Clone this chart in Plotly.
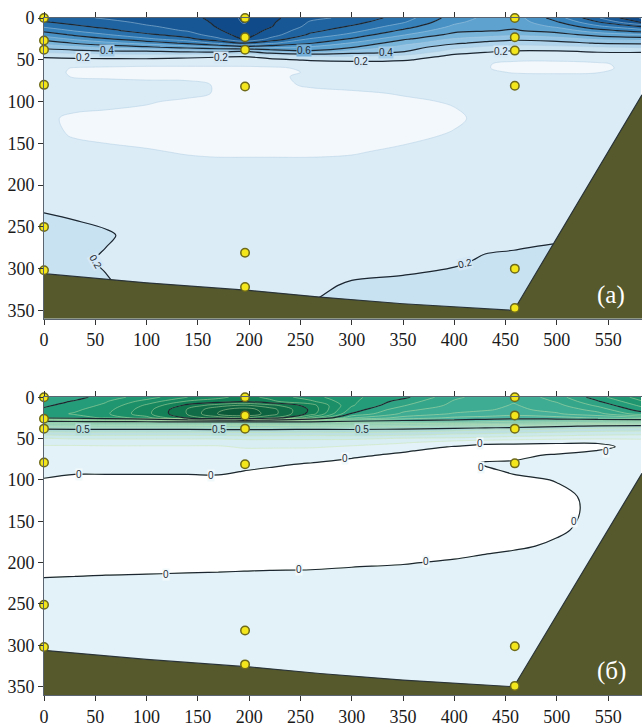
import plotly.graph_objects as go

# Section grid: distance along the section (x) and depth (y)
dist = [0, 30, 60, 100, 140, 170, 195, 220, 260, 300, 350, 400, 430, 458, 500, 540, 582]
depth = [0, 5, 10, 15, 20, 25, 30, 35, 40, 45, 50, 55, 60, 65, 70, 80, 90, 100,
         120, 140, 160, 180, 200, 230, 260, 290, 320, 360]

# Field (а): one row per depth level
field_a = [
    [1.04, 1.08, 1.11, 1.15, 1.17, 1.23, 1.32, 1.23, 1.12, 1.08, 0.95, 0.75, 0.68, 0.65, 0.85, 1.09, 1.31],
    [0.99, 1.04, 1.07, 1.12, 1.15, 1.22, 1.31, 1.22, 1.09, 1.04, 0.91, 0.72, 0.66, 0.64, 0.79, 0.99, 1.21],
    [0.92, 0.98, 1.03, 1.09, 1.13, 1.21, 1.28, 1.21, 1.07, 0.99, 0.85, 0.68, 0.63, 0.62, 0.72, 0.88, 1.01],
    [0.83, 0.91, 0.97, 1.05, 1.11, 1.19, 1.26, 1.18, 1.03, 0.94, 0.78, 0.63, 0.61, 0.59, 0.64, 0.76, 0.85],
    [0.74, 0.82, 0.89, 0.98, 1.05, 1.16, 1.24, 1.15, 0.98, 0.87, 0.71, 0.57, 0.54, 0.52, 0.56, 0.64, 0.69],
    [0.64, 0.72, 0.79, 0.88, 0.97, 1.08, 1.21, 1.08, 0.89, 0.79, 0.62, 0.49, 0.46, 0.43, 0.46, 0.52, 0.55],
    [0.53, 0.61, 0.67, 0.74, 0.82, 0.92, 1.01, 0.92, 0.81, 0.69, 0.54, 0.42, 0.37, 0.34, 0.36, 0.41, 0.42],
    [0.44, 0.48, 0.53, 0.58, 0.64, 0.69, 0.75, 0.72, 0.68, 0.61, 0.46, 0.33, 0.28, 0.26, 0.27, 0.29, 0.31],
    [0.33, 0.36, 0.38, 0.39, 0.42, 0.44, 0.39, 0.51, 0.58, 0.47, 0.41, 0.25, 0.21, 0.19, 0.19, 0.21, 0.21],
    [0.22, 0.24, 0.25, 0.26, 0.24, 0.22, 0.21, 0.25, 0.31, 0.32, 0.29, 0.18, 0.17, 0.16, 0.15, 0.16, 0.17],
    [0.18, 0.18, 0.18, 0.18, 0.17, 0.17, 0.17, 0.18, 0.21, 0.22, 0.21, 0.16, 0.14, 0.12, 0.12, 0.14, 0.16],
    [0.16, 0.16, 0.15, 0.14, 0.14, 0.14, 0.14, 0.15, 0.16, 0.17, 0.16, 0.15, 0.11, 0.07, 0.06, 0.08, 0.15],
    [0.15, 0.09, 0.08, 0.07, 0.07, 0.07, 0.07, 0.08, 0.12, 0.15, 0.15, 0.15, 0.11, 0.06, 0.05, 0.07, 0.15],
    [0.15, 0.08, 0.07, 0.06, 0.06, 0.06, 0.06, 0.07, 0.11, 0.15, 0.15, 0.15, 0.13, 0.09, 0.08, 0.095, 0.15],
    [0.15, 0.09, 0.08, 0.07, 0.07, 0.07, 0.07, 0.08, 0.12, 0.15, 0.15, 0.15, 0.15, 0.14, 0.14, 0.14, 0.15],
    [0.15, 0.15, 0.15, 0.14, 0.13, 0.09, 0.07, 0.08, 0.11, 0.14, 0.15, 0.15, 0.15, 0.15, 0.15, 0.15, 0.15],
    [0.15, 0.15, 0.15, 0.15, 0.13, 0.09, 0.07, 0.07, 0.08, 0.08, 0.11, 0.13, 0.14, 0.15, 0.15, 0.15, 0.15],
    [0.15, 0.14, 0.13, 0.11, 0.08, 0.06, 0.06, 0.06, 0.06, 0.06, 0.08, 0.11, 0.13, 0.15, 0.15, 0.15, 0.15],
    [0.12, 0.08, 0.07, 0.06, 0.06, 0.06, 0.06, 0.06, 0.06, 0.06, 0.06, 0.08, 0.13, 0.15, 0.15, 0.15, 0.15],
    [0.13, 0.09, 0.07, 0.06, 0.06, 0.06, 0.06, 0.06, 0.06, 0.06, 0.07, 0.11, 0.14, 0.15, 0.15, 0.15, 0.15],
    [0.15, 0.14, 0.13, 0.11, 0.09, 0.08, 0.08, 0.08, 0.08, 0.09, 0.12, 0.14, 0.15, 0.15, 0.15, 0.15, 0.15],
    [0.15, 0.15, 0.15, 0.14, 0.14, 0.14, 0.14, 0.14, 0.14, 0.14, 0.15, 0.15, 0.15, 0.15, 0.15, 0.15, 0.15],
    [0.17, 0.16, 0.16, 0.16, 0.16, 0.16, 0.16, 0.16, 0.16, 0.16, 0.16, 0.16, 0.16, 0.16, 0.16, 0.16, 0.16],
    [0.195, 0.18, 0.17, 0.16, 0.16, 0.16, 0.16, 0.16, 0.16, 0.16, 0.16, 0.16, 0.16, 0.17, 0.17, 0.17, 0.17],
    [0.24, 0.23, 0.21, 0.17, 0.16, 0.16, 0.16, 0.16, 0.16, 0.16, 0.16, 0.17, 0.17, 0.17, 0.18, 0.18, 0.18],
    [0.24, 0.22, 0.19, 0.16, 0.16, 0.16, 0.16, 0.16, 0.16, 0.16, 0.17, 0.185, 0.21, 0.22, 0.24, 0.24, 0.24],
    [0.22, 0.22, 0.21, 0.17, 0.16, 0.16, 0.16, 0.17, 0.18, 0.21, 0.22, 0.24, 0.24, 0.24, 0.24, 0.24, 0.24],
    [0.22, 0.22, 0.21, 0.21, 0.21, 0.21, 0.21, 0.21, 0.22, 0.23, 0.24, 0.25, 0.25, 0.25, 0.25, 0.25, 0.25],
]

# Field (б): one row per depth level
field_b = [
    [1.42, 1.46, 1.55, 1.65, 1.80, 1.88, 1.93, 1.88, 1.74, 1.62, 1.53, 1.32, 1.26, 1.22, 1.35, 1.56, 1.75],
    [1.45, 1.51, 1.59, 1.74, 1.91, 1.94, 1.98, 1.92, 1.82, 1.62, 1.46, 1.29, 1.25, 1.21, 1.31, 1.49, 1.69],
    [1.48, 1.55, 1.62, 1.82, 2.03, 2.16, 2.22, 2.14, 1.95, 1.61, 1.41, 1.27, 1.24, 1.19, 1.27, 1.42, 1.62],
    [1.52, 1.58, 1.66, 1.86, 2.11, 2.28, 2.35, 2.25, 1.98, 1.56, 1.33, 1.24, 1.21, 1.18, 1.23, 1.34, 1.55],
    [1.56, 1.61, 1.68, 1.87, 2.11, 2.31, 2.38, 2.26, 1.96, 1.49, 1.28, 1.19, 1.17, 1.14, 1.19, 1.27, 1.45],
    [1.52, 1.56, 1.61, 1.76, 2.03, 2.15, 2.21, 2.11, 1.72, 1.31, 1.16, 1.08, 1.06, 1.04, 1.06, 1.11, 1.16],
    [0.91, 0.92, 0.94, 0.95, 0.96, 0.98, 0.99, 0.98, 0.96, 0.93, 0.91, 0.91, 0.89, 0.87, 0.85, 0.82, 0.79],
    [0.62, 0.63, 0.64, 0.64, 0.64, 0.65, 0.66, 0.65, 0.64, 0.63, 0.62, 0.59, 0.58, 0.56, 0.52, 0.48, 0.45],
    [0.45, 0.46, 0.46, 0.46, 0.46, 0.47, 0.47, 0.47, 0.46, 0.47, 0.45, 0.42, 0.39, 0.38, 0.35, 0.33, 0.32],
    [0.32, 0.33, 0.33, 0.33, 0.33, 0.33, 0.34, 0.34, 0.33, 0.34, 0.33, 0.29, 0.28, 0.26, 0.24, 0.22, 0.21],
    [0.19, 0.21, 0.21, 0.21, 0.21, 0.21, 0.22, 0.22, 0.22, 0.22, 0.19, 0.18, 0.16, 0.14, 0.12, 0.11, 0.11],
    [0.12, 0.12, 0.13, 0.13, 0.13, 0.13, 0.14, 0.14, 0.14, 0.13, 0.11, 0.04, 0.01, 0.01, 0.005, 0.005, 0.05],
    [0.09, 0.09, 0.09, 0.09, 0.09, 0.09, 0.11, 0.11, 0.11, 0.09, 0.03, -0.005, -0.015, -0.02, -0.02, -0.02, 0.03],
    [0.08, 0.08, 0.08, 0.08, 0.08, 0.08, 0.08, 0.08, 0.07, 0.06, 0.005, -0.02, -0.03, -0.03, -0.03, 0.003, 0.04],
    [0.07, 0.07, 0.07, 0.07, 0.07, 0.06, 0.06, 0.06, 0.04, 0.01, -0.01, -0.02, -0.02, -0.02, 0.01, 0.02, 0.03],
    [0.05, 0.05, 0.05, 0.05, 0.04, 0.035, 0.02, 0.01, -0.002, -0.015, -0.02, -0.02, 0.005, 0.01, 0.02, 0.03, 0.03],
    [0.02, 0.01, 0.01, 0.01, 0.01, 0.01, -0.002, -0.01, -0.02, -0.02, -0.02, -0.02, -0.01, 0.005, 0.02, 0.03, 0.03],
    [-0.005, -0.02, -0.02, -0.02, -0.02, -0.015, -0.02, -0.02, -0.03, -0.03, -0.03, -0.03, -0.02, -0.01, 0.002, 0.02, 0.03],
    [-0.03, -0.03, -0.03, -0.03, -0.03, -0.03, -0.03, -0.03, -0.03, -0.03, -0.03, -0.03, -0.03, -0.02, -0.01, 0.01, 0.03],
    [-0.03, -0.03, -0.03, -0.03, -0.03, -0.03, -0.03, -0.03, -0.03, -0.03, -0.03, -0.03, -0.03, -0.02, -0.01, 0.008, 0.03],
    [-0.03, -0.03, -0.03, -0.03, -0.03, -0.03, -0.03, -0.03, -0.03, -0.03, -0.03, -0.03, -0.025, -0.02, -0.005, 0.01, 0.03],
    [-0.025, -0.025, -0.025, -0.025, -0.025, -0.025, -0.025, -0.025, -0.02, -0.02, -0.02, -0.015, -0.01, -0.005, 0.005, 0.02, 0.03],
    [-0.015, -0.015, -0.014, -0.013, -0.012, -0.011, -0.01, -0.009, -0.008, -0.005, -0.002, 0.004, 0.01, 0.015, 0.02, 0.02, 0.02],
    [0.01, 0.012, 0.014, 0.015, 0.017, 0.018, 0.019, 0.02, 0.02, 0.022, 0.025, 0.03, 0.03, 0.03, 0.03, 0.03, 0.03],
    [0.04, 0.04, 0.04, 0.04, 0.04, 0.04, 0.04, 0.04, 0.04, 0.04, 0.04, 0.04, 0.04, 0.04, 0.04, 0.04, 0.04],
    [0.05, 0.05, 0.05, 0.05, 0.05, 0.05, 0.05, 0.05, 0.05, 0.05, 0.05, 0.05, 0.05, 0.05, 0.05, 0.05, 0.05],
    [0.05, 0.05, 0.05, 0.05, 0.05, 0.05, 0.05, 0.05, 0.05, 0.05, 0.05, 0.05, 0.05, 0.05, 0.05, 0.05, 0.05],
    [0.05, 0.05, 0.05, 0.05, 0.05, 0.05, 0.05, 0.05, 0.05, 0.05, 0.05, 0.05, 0.05, 0.05, 0.05, 0.05, 0.05],
]

# Bottom profile along the section
bottom_dist = [0, 100, 200, 269, 350, 458, 583]
bottom_depth = [306, 317, 326, 334, 342, 350, 92]

# Sampling stations (distance, depth)
stations_a_dist = [0, 0, 0, 0, 0, 0, 196, 196, 196, 196, 196, 196, 459, 459, 459, 459, 459, 459]
stations_a_depth = [0, 27, 38, 80, 250, 302, 0, 23, 38, 82, 281, 322, 0, 23, 39, 81, 300, 347]
stations_b_dist = [0, 0, 0, 0, 0, 0, 196, 196, 196, 196, 196, 196, 459, 459, 459, 459, 459, 459]
stations_b_depth = [0, 26, 38, 79, 251, 302, 0, 22, 38, 81, 282, 323, 0, 22, 38, 80, 301, 349]

# Contour labels: (text, distance, depth, angle)
labels_a = [("0.4", 61, 39, 0), ("0.2", 38, 47.5, 0), ("0.2", 173, 47, 0), ("0.6", 253, 39, 0),
            ("0.4", 333, 41, 0), ("0.2", 309, 52.5, 0), ("0.2", 446, 40, 0),
            ("0.2", 50, 292, 60), ("0.2", 410, 294, -13)]
labels_b = [("0.5", 38, 38.5, 0), ("0.5", 171, 38.5, 0), ("0.5", 310, 38.5, 0),
            ("0", 34, 93, 0), ("0", 163, 95, 0), ("0", 293, 74, 0), ("0", 425, 56, 0),
            ("0", 548, 66, 0), ("0", 426, 85, 0), ("0", 517, 150, 0), ("0", 372, 199, 0),
            ("0", 249, 208, 0), ("0", 119, 214, 0)]

X_MAX, Y_MAX = 583, 360

blues = ['#f3f8fc', '#dbecf7', '#c9e2f2', '#b0d4ec', '#94c4e4', '#78b3da', '#5ea2d0',
         '#4891c5', '#3681ba', '#2871ad', '#1f64a1', '#175795', '#104a88', '#0b3d78']
greens = ['#ffffff', '#e3f2f8', '#d8eef2', '#cbe8eb', '#bde1e3', '#aedbd8',
          '#a0d5cb', '#92cfc3', '#84c9bb', '#76c3b3', '#68bdab',
          '#4fb5a0', '#46b09a', '#3eab93', '#36a68b', '#2ea283',
          '#259c79', '#1f9670', '#1a8f68', '#17875f', '#148057',
          '#11764e', '#0f6c47', '#0d6240', '#0b5839', '#094e32', '#07442b']


def band_scale(colors):
    n = len(colors) - 1
    return [[i / n, c] for i, c in enumerate(colors)]


fig = go.Figure()


def add_section(field, xa, ya, scale, start, end, step, major_start, major_end, major_step,
                minor_color, st_x, st_y, labels, label_bg, panel_text):
    fig.add_trace(go.Contour(
        x=dist, y=depth, z=field, xaxis=xa, yaxis=ya,
        colorscale=band_scale(scale), showscale=False, autocontour=False,
        contours=dict(start=start, end=end, size=step, coloring='fill'),
        line=dict(color=minor_color, width=0.6, smoothing=1.0), hoverinfo='skip'))
    fig.add_trace(go.Contour(
        x=dist, y=depth, z=field, xaxis=xa, yaxis=ya, showscale=False, autocontour=False,
        contours=dict(start=major_start, end=major_end, size=major_step, coloring='none'),
        line=dict(color='#1c2630', width=1.2, smoothing=1.0), hoverinfo='skip'))
    # sea floor
    fig.add_trace(go.Scatter(
        x=bottom_dist + [X_MAX, 0], y=bottom_depth + [Y_MAX, Y_MAX], xaxis=xa, yaxis=ya,
        mode='lines', fill='toself', fillcolor='#56592b', line=dict(width=0), hoverinfo='skip'))
    fig.add_trace(go.Scatter(
        x=bottom_dist, y=bottom_depth, xaxis=xa, yaxis=ya, mode='lines',
        line=dict(color='#2a3438', width=1.2), hoverinfo='skip'))
    fig.add_trace(go.Scatter(
        x=st_x, y=st_y, xaxis=xa, yaxis=ya, mode='markers', cliponaxis=False,
        marker=dict(size=8.5, color='#f3e61c', line=dict(color='#6e6a1a', width=1.5)),
        hoverinfo='skip'))
    for text, lx, ly, ang in labels:
        bg = label_bg.get(text, '#e8f3f9')
        fig.add_annotation(x=lx, y=ly, xref=xa, yref=ya, text=text, showarrow=False,
                           textangle=ang, bgcolor=bg, borderpad=0,
                           font=dict(family='Liberation Sans', size=10, color='#1f2a33'))
    fig.add_annotation(x=553, y=331, xref=xa, yref=ya, text=panel_text, showarrow=False,
                       font=dict(family='Liberation Serif', size=25, color='white'))


add_section(field_a, 'x', 'y', blues, 0.1, 1.3, 0.1, 0.2, 1.2, 0.2,
            'rgba(175,205,225,0.85)', stations_a_dist, stations_a_depth, labels_a,
            {'0.2': '#d4e8f5', '0.4': '#a3cce8', '0.6': '#72aed8'}, '(а)')
add_section(field_b, 'x2', 'y2', greens, 0.0, 2.5, 0.1, 0.0, 2.0, 0.5,
            'rgba(205,230,170,0.8)', stations_b_dist, stations_b_depth, labels_b,
            {'0.5': '#b5dedb', '0': '#f2f9fb'}, '(б)')

tick_font = dict(family='Liberation Serif', size=18, color='#1a1a1a')
xaxis_style = dict(range=[0, X_MAX], tickvals=list(range(0, 551, 50)), ticks='outside',
                   ticklen=5, tickcolor='#333333', showline=True, linecolor='#5a6470',
                   mirror='ticks', showgrid=False, zeroline=False, tickfont=tick_font)
yaxis_style = dict(range=[Y_MAX, 0], tickvals=list(range(0, 351, 50)), ticks='outside',
                   ticklen=5, tickcolor='#333333', showline=True, linecolor='#5a6470',
                   showgrid=False, zeroline=False, tickfont=tick_font)

fig.update_layout(
    width=642, height=727, margin=dict(l=44, r=0, t=18, b=27),
    paper_bgcolor='white', plot_bgcolor='white', showlegend=False,
    xaxis=dict(domain=[0, 1], anchor='y', **xaxis_style),
    yaxis=dict(domain=[0.5557, 1], anchor='x', **yaxis_style),
    xaxis2=dict(domain=[0, 1], anchor='y2', **xaxis_style),
    yaxis2=dict(domain=[0, 0.4399], anchor='x2', **yaxis_style),
)

fig.write_html("out.html")
